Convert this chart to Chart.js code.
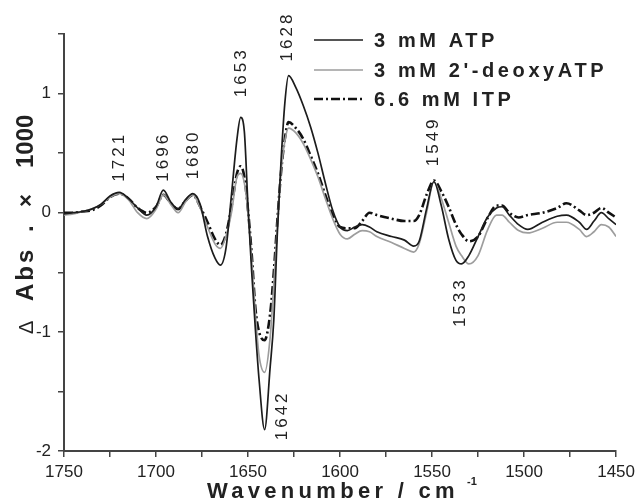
<!DOCTYPE html>
<html>
<head>
<meta charset="utf-8">
<script src="https://cdn.jsdelivr.net/npm/chart.js@4.4.0/dist/chart.umd.min.js"></script>
<style>
  body { margin: 0; background: #fff; }
  #chart { display: block; }
</style>
</head>
<body>
<canvas id="chart" width="640" height="502"></canvas>
<script>
// wavenumber grid shared by the three difference spectra (cm-1)
const wavenumbers = [1750, 1745, 1740, 1735, 1730, 1725, 1720, 1715, 1710, 1705,
  1700, 1696, 1692, 1688, 1684, 1680, 1676, 1672, 1668, 1665,
  1662, 1659, 1656, 1654, 1652, 1650, 1648, 1646, 1644, 1641,
  1638, 1636, 1634, 1632, 1630, 1628, 1624, 1620, 1616, 1612,
  1608, 1604, 1600, 1596, 1592, 1588, 1584, 1580, 1572, 1565,
  1560, 1557, 1553, 1549, 1545, 1541, 1537, 1534, 1530, 1525,
  1520, 1515, 1512, 1508, 1503, 1498, 1490, 1482, 1477, 1470,
  1466, 1462, 1458, 1454, 1450];

// delta Abs x 1000
const atp = [-0.01, 0.0, 0.01, 0.03, 0.07, 0.14, 0.17, 0.12, 0.04, -0.02,
  0.05, 0.19, 0.09, 0.03, 0.11, 0.16, 0.07, -0.2, -0.38, -0.44,
  -0.3, 0.15, 0.62, 0.80, 0.68, 0.05, -0.5, -0.98, -1.4, -1.82,
  -1.3, -0.9, -0.15, 0.45, 0.92, 1.15, 1.05, 0.9, 0.72, 0.5,
  0.25, 0.02, -0.12, -0.15, -0.12, -0.1, -0.12, -0.16, -0.2, -0.23,
  -0.28, -0.24, 0.03, 0.26, 0.06, -0.22, -0.4, -0.43, -0.36, -0.2,
  -0.04, 0.04, 0.05, -0.02, -0.1, -0.14, -0.08, -0.03, -0.02, -0.08,
  -0.14, -0.07, 0.0, -0.05, -0.1];

const deoxyAtp = [-0.02, -0.01, 0.01, 0.03, 0.07, 0.13, 0.16, 0.11, 0.0, -0.05,
  0.03, 0.15, 0.07, 0.0, 0.09, 0.15, 0.04, -0.12, -0.26, -0.3,
  -0.2, 0.0, 0.3, 0.33, 0.25, 0.0, -0.4, -0.85, -1.2, -1.34,
  -1.05, -0.6, -0.1, 0.35, 0.6, 0.71, 0.67, 0.58, 0.45, 0.3,
  0.12, -0.05, -0.18, -0.22, -0.18, -0.15, -0.16, -0.2, -0.25, -0.3,
  -0.33, -0.26, 0.0, 0.26, 0.12, -0.08, -0.28, -0.36, -0.43, -0.36,
  -0.15, -0.02, -0.02, -0.08, -0.15, -0.17, -0.13, -0.08, -0.08, -0.14,
  -0.2, -0.16, -0.1, -0.12, -0.2];

const itp = [0.0, 0.0, 0.01, 0.02, 0.06, 0.13, 0.16, 0.12, 0.04, 0.0,
  0.05, 0.15, 0.08, 0.03, 0.1, 0.15, 0.05, -0.08, -0.22, -0.27,
  -0.18, 0.05, 0.33, 0.39, 0.3, 0.02, -0.35, -0.8, -1.0, -1.07,
  -0.85, -0.5, -0.05, 0.35, 0.62, 0.76, 0.71, 0.62, 0.48, 0.33,
  0.15, -0.02, -0.12, -0.13, -0.13, -0.07, 0.0, -0.02, -0.05, -0.07,
  -0.07, -0.02, 0.15, 0.27, 0.18, 0.05, -0.1, -0.18, -0.24, -0.2,
  -0.05, 0.06, 0.06, 0.0, -0.04, -0.02, 0.0, 0.04, 0.08, 0.02,
  -0.02, 0.0, 0.04, 0.0, -0.04];

const seriesNames = ["3 mM ATP", "3 mM 2'-deoxyATP", "6.6 mM ITP"];

// band assignments written next to the curves: [text, wavenumber, value where the text starts]
const bandLabels = [
  ["1721", 1720, 0.26],
  ["1696", 1695.8, 0.26],
  ["1680", 1679.7, 0.28],
  ["1653", 1653.9, 0.97],
  ["1628", 1628.7, 1.27],
  ["1549", 1549.3, 0.39],
  ["1642", 1631.4, -1.91],
  ["1533", 1534.8, -0.96]
];

const toPoints = vals => wavenumbers.map((w, i) => ({ x: w, y: vals[i] }));

const INK = '#222';
const AXIS = '#444';

function spacedText(ctx, text, x, y, spacing) {
  if ('letterSpacing' in ctx) {
    ctx.letterSpacing = spacing + 'px';
    ctx.fillText(text, x, y);
    ctx.letterSpacing = '0px';
  } else {
    let cx = x;
    for (const ch of text) {
      ctx.fillText(ch, cx, y);
      cx += ctx.measureText(ch).width + spacing;
    }
  }
}

// rotated text reading bottom to top, starting at (x, y)
function upText(ctx, text, x, y, font, spacing) {
  ctx.save();
  ctx.translate(x, y);
  ctx.rotate(-Math.PI / 2);
  ctx.font = font;
  spacedText(ctx, text, 0, 0, spacing);
  ctx.restore();
}

const overlay = {
  id: 'overlay',
  afterDraw(chart) {
    const { ctx, scales } = chart;
    const xs = scales.x, ys = scales.y;
    ctx.save();
    ctx.fillStyle = INK;
    ctx.textAlign = 'left';

    // band labels
    ctx.textBaseline = 'middle';
    bandLabels.forEach(([txt, w, v]) => {
      upText(ctx, txt, xs.getPixelForValue(w), ys.getPixelForValue(v), '17px Arial', 3);
    });

    // legend
    const rows = [40, 70, 99];
    chart.data.datasets.forEach((ds, i) => {
      ctx.strokeStyle = ds.borderColor;
      ctx.lineWidth = ds.borderWidth;
      ctx.setLineDash(ds.borderDash || []);
      ctx.beginPath();
      ctx.moveTo(314, rows[i]);
      ctx.lineTo(363, rows[i]);
      ctx.stroke();
      ctx.setLineDash([]);
      ctx.font = 'bold 20px Arial';
      ctx.textBaseline = 'middle';
      spacedText(ctx, ds.label, 374, rows[i] + 1, 3.6);
    });

    // x axis title
    ctx.textBaseline = 'alphabetic';
    ctx.font = 'bold 22px Arial';
    spacedText(ctx, 'Wavenumber / cm', 207, 498, 4.3);
    ctx.font = 'bold 11px Arial';
    ctx.fillText('-1', 467, 485);

    // y axis title
    upText(ctx, '\u0394', 33, 334, '20px Arial', 0);
    upText(ctx, 'Abs', 33, 301, 'bold 24px Arial', 3);
    upText(ctx, '.', 33, 232, 'bold 24px Arial', 0);
    upText(ctx, '\u00d7', 33, 207, 'bold 22px Arial', 0);
    upText(ctx, '1000', 33, 168, 'bold 24px Arial', 0);
    ctx.restore();
  }
};

const tickFont = { family: '"Liberation Sans Narrow", "Arial Narrow", Arial', size: 17 };

new Chart(document.getElementById('chart'), {
  type: 'line',
  data: {
    datasets: [
      { label: seriesNames[0], data: toPoints(atp), borderColor: '#1c1c1c', borderWidth: 1.7 },
      { label: seriesNames[1], data: toPoints(deoxyAtp), borderColor: '#9d9d9d', borderWidth: 1.7 },
      { label: seriesNames[2], data: toPoints(itp), borderColor: '#111', borderWidth: 2.6, borderDash: [9, 3, 2, 3] }
    ]
  },
  options: {
    responsive: false,
    animation: false,
    devicePixelRatio: 1,
    layout: { padding: { top: 34, right: 17, left: 0, bottom: 0 } },
    elements: {
      point: { radius: 0 },
      line: { cubicInterpolationMode: 'monotone', fill: false }
    },
    plugins: { legend: { display: false }, tooltip: { enabled: false } },
    scales: {
      x: {
        type: 'linear',
        reverse: true,
        min: 1450,
        max: 1750,
        afterFit(s) { s.height = 51; },
        border: { display: true, color: AXIS, width: 2 },
        grid: { drawOnChartArea: false, drawTicks: true, tickLength: 6, color: AXIS, lineWidth: 1.5 },
        ticks: {
          stepSize: 25,
          autoSkip: false,
          maxRotation: 0,
          padding: 5,
          color: INK,
          font: tickFont,
          callback: v => (v % 50 === 0 ? v : '')
        }
      },
      y: {
        min: -2,
        max: 1.5,
        afterFit(s) { s.width = 64; },
        border: { display: true, color: AXIS, width: 2 },
        grid: { drawOnChartArea: false, drawTicks: true, tickLength: 6, color: AXIS, lineWidth: 1.5 },
        ticks: {
          stepSize: 0.5,
          padding: 7,
          color: INK,
          font: tickFont,
          callback: v => (Number.isInteger(v) ? v : '')
        }
      }
    }
  },
  plugins: [overlay]
});
</script>
</body>
</html>
